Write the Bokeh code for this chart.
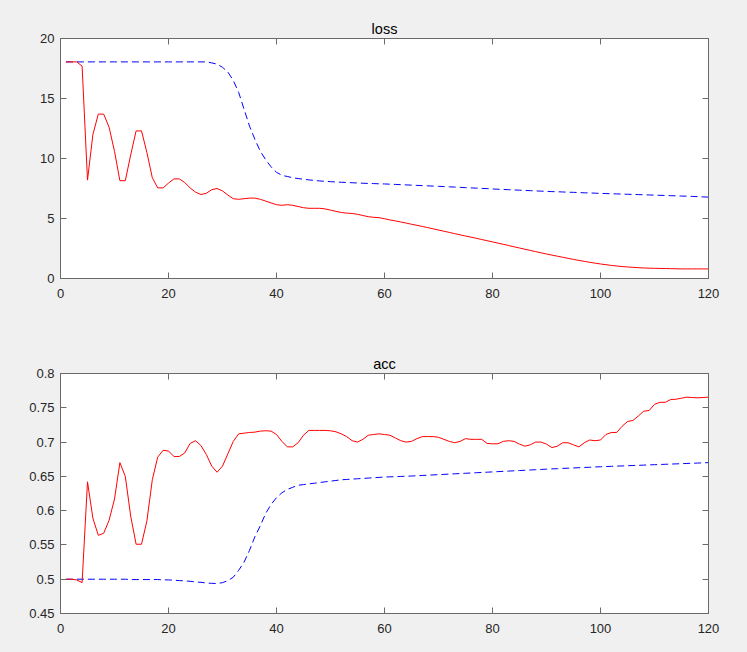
from bokeh.plotting import figure
from bokeh.layouts import column
from bokeh.models import LinearAxis, FixedTicker, Range1d
from bokeh.embed import file_html
from bokeh.resources import INLINE

epochs = list(range(1, 121))

loss_red = [
    18.05, 18.05, 18.05, 17.7, 8.2, 12.0, 13.7, 13.7, 12.6, 10.6,
    8.15, 8.15, 10.3, 12.3, 12.3, 10.5, 8.4, 7.55, 7.55, 7.95,
    8.3, 8.3, 8.0, 7.55, 7.2, 7.0, 7.1, 7.4, 7.5, 7.3,
    6.95, 6.65, 6.6, 6.65, 6.7, 6.7, 6.6, 6.45, 6.3, 6.15,
    6.1, 6.15, 6.1, 6.0, 5.9, 5.85, 5.85, 5.85, 5.8, 5.7,
    5.6, 5.5, 5.45, 5.42, 5.35, 5.25, 5.15, 5.1, 5.07, 4.98,
    4.88, 4.8, 4.71, 4.62, 4.52, 4.43, 4.34, 4.24, 4.14, 4.04,
    3.94, 3.84, 3.74, 3.64, 3.54, 3.45, 3.35, 3.25, 3.15, 3.05,
    2.95, 2.85, 2.75, 2.64, 2.54, 2.44, 2.34, 2.24, 2.14, 2.04,
    1.95, 1.86, 1.77, 1.68, 1.59, 1.51, 1.43, 1.35, 1.28, 1.21,
    1.15, 1.09, 1.04, 1.0, 0.96, 0.93, 0.9, 0.88, 0.86, 0.85,
    0.84, 0.83, 0.82, 0.81, 0.8, 0.8, 0.8, 0.8, 0.8, 0.8,
]

loss_blue = [
    18.05, 18.05, 18.05, 18.05, 18.05, 18.05, 18.05, 18.05, 18.05, 18.05,
    18.05, 18.05, 18.05, 18.05, 18.05, 18.05, 18.05, 18.05, 18.05, 18.05,
    18.05, 18.05, 18.05, 18.05, 18.05, 18.05, 18.05, 17.97, 17.86, 17.6,
    17.2, 16.5, 15.5, 14.1, 12.7, 11.6, 10.6, 9.9, 9.3, 8.85,
    8.6, 8.5, 8.4, 8.33, 8.27, 8.22, 8.17, 8.13, 8.1, 8.07,
    8.04, 8.02, 8.0, 7.98, 7.96, 7.94, 7.92, 7.91, 7.89, 7.88,
    7.86, 7.84, 7.82, 7.80, 7.78, 7.76, 7.74, 7.72, 7.70, 7.68,
    7.66, 7.64, 7.62, 7.60, 7.57, 7.55, 7.53, 7.51, 7.49, 7.46,
    7.44, 7.42, 7.40, 7.38, 7.36, 7.34, 7.32, 7.30, 7.28, 7.26,
    7.24, 7.23, 7.21, 7.19, 7.18, 7.16, 7.14, 7.13, 7.11, 7.09,
    7.08, 7.06, 7.05, 7.03, 7.02, 7.01, 6.99, 6.98, 6.96, 6.95,
    6.93, 6.92, 6.90, 6.89, 6.87, 6.86, 6.84, 6.82, 6.80, 6.78,
]

acc_red = [
    0.5, 0.5, 0.499, 0.495, 0.642, 0.589, 0.564, 0.567, 0.586, 0.617,
    0.670, 0.650, 0.592, 0.551, 0.551, 0.585, 0.645, 0.678, 0.688, 0.687,
    0.679, 0.679, 0.684, 0.698, 0.702, 0.695, 0.682, 0.665, 0.656, 0.665,
    0.683, 0.701, 0.712, 0.713, 0.714, 0.7145, 0.716, 0.7165, 0.716, 0.711,
    0.701, 0.693, 0.693, 0.699, 0.710, 0.717, 0.717, 0.717, 0.717, 0.7165,
    0.715, 0.712, 0.708, 0.702, 0.700, 0.704, 0.710, 0.711, 0.712, 0.711,
    0.710, 0.706, 0.702, 0.700, 0.701, 0.705, 0.708, 0.708, 0.708, 0.707,
    0.704, 0.701, 0.699, 0.701, 0.705, 0.704, 0.704, 0.704, 0.698, 0.6975,
    0.6975, 0.701, 0.702, 0.701, 0.697, 0.694, 0.696, 0.700, 0.700, 0.697,
    0.692, 0.694, 0.699, 0.699, 0.696, 0.693, 0.699, 0.703, 0.702, 0.703,
    0.711, 0.714, 0.714, 0.723, 0.730, 0.7315, 0.738, 0.745, 0.746, 0.755,
    0.758, 0.758, 0.762, 0.7625, 0.764, 0.7655, 0.765, 0.7645, 0.765, 0.7655,
]

acc_blue = [
    0.5, 0.5, 0.5, 0.5, 0.5, 0.5, 0.5, 0.5, 0.5, 0.5,
    0.5, 0.5, 0.4995, 0.4995, 0.4995, 0.4995, 0.4995, 0.4995, 0.499, 0.499,
    0.4985, 0.498, 0.4975, 0.497, 0.496, 0.4955, 0.4945, 0.494, 0.4937, 0.495,
    0.498, 0.503, 0.513, 0.525, 0.542, 0.562, 0.578, 0.596, 0.609, 0.619,
    0.626, 0.631, 0.634, 0.637, 0.638, 0.639, 0.640, 0.641, 0.642, 0.643,
    0.644, 0.645, 0.6455, 0.646, 0.6465, 0.647, 0.6475, 0.648, 0.6485, 0.649,
    0.6493, 0.6496, 0.6499, 0.6502, 0.6505, 0.6509, 0.6513, 0.6517, 0.6521, 0.6525,
    0.6529, 0.6533, 0.6537, 0.6541, 0.6545, 0.6549, 0.6553, 0.6557, 0.6561, 0.6565,
    0.6569, 0.6573, 0.6577, 0.6581, 0.6585, 0.6589, 0.6593, 0.6597, 0.6601, 0.6605,
    0.6609, 0.6612, 0.6616, 0.6619, 0.6623, 0.6626, 0.6630, 0.6633, 0.6637, 0.6640,
    0.6643, 0.6646, 0.6649, 0.6652, 0.6655, 0.6658, 0.6661, 0.6664, 0.6667, 0.6670,
    0.6673, 0.6676, 0.6679, 0.6682, 0.6685, 0.6688, 0.6691, 0.6694, 0.6697, 0.6700,
]

x_ticks = [0, 20, 40, 60, 80, 100, 120]
x_tick_labels = ["0", "20", "40", "60", "80", "100", "120"]
loss_ticks = [0, 5, 10, 15, 20]
loss_tick_labels = ["0", "5", "10", "15", "20"]
acc_ticks = [0.45, 0.5, 0.55, 0.6, 0.65, 0.7, 0.75, 0.8]
acc_tick_labels = ["0.45", "0.5", "0.55", "0.6", "0.65", "0.7", "0.75", "0.8"]

FONT = "Liberation Sans"
AX_COL = "#6a6a6a"
TXT_COL = "#262626"
BG = "#f0f0f0"


def style_axis(ax, ticks, labels, show_labels, standoff):
    ax.ticker = FixedTicker(ticks=ticks)
    ax.minor_tick_line_color = None
    ax.major_tick_in = 6
    ax.major_tick_out = 0
    ax.major_tick_line_color = AX_COL
    ax.axis_line_color = AX_COL
    ax.major_label_text_font = FONT
    ax.major_label_text_color = TXT_COL
    if show_labels:
        ax.major_label_overrides = {t: l for t, l in zip(ticks, labels)}
        ax.major_label_text_font_size = "13px"
        ax.major_label_standoff = standoff
    else:
        ax.major_label_text_font_size = "1px"
        ax.major_label_text_color = None
        ax.major_label_standoff = 0


def make_fig(title, ymin, ymax, yticks, ylabels, red, blue, top, bottom):
    p = figure(
        title=title,
        frame_width=648, frame_height=240,
        min_border_left=60, min_border_right=39,
        min_border_top=top, min_border_bottom=bottom,
        x_range=Range1d(0, 120), y_range=Range1d(ymin, ymax),
        output_backend="svg", toolbar_location=None,
        background_fill_color="white", border_fill_color=BG,
    )
    p.grid.visible = False
    p.outline_line_color = AX_COL
    p.title.align = "center"
    p.title.text_font = FONT
    p.title.text_font_size = "14.5px"
    p.title.text_font_style = "normal"
    p.title.text_color = "#000000"
    p.title.standoff = 4

    style_axis(p.xaxis[0], x_ticks, x_tick_labels, True, 10)
    style_axis(p.yaxis[0], yticks, ylabels, True, 6)
    top_ax = LinearAxis()
    right_ax = LinearAxis()
    style_axis(top_ax, x_ticks, x_tick_labels, False, 0)
    style_axis(right_ax, yticks, ylabels, False, 0)
    p.add_layout(top_ax, "above")
    p.add_layout(right_ax, "right")

    p.line(epochs, blue, line_color="#0000ff", line_width=1, line_dash="7 4")
    p.line(epochs, red, line_color="#ff0000", line_width=1)
    return p


p1 = make_fig("loss", 0, 20, loss_ticks, loss_tick_labels, loss_red, loss_blue, 38, 47)
p2 = make_fig("acc", 0.45, 0.8, acc_ticks, acc_tick_labels, acc_red, acc_blue, 48, 39)

p = column(p1, p2, spacing=0, styles={"background-color": BG})

open("out.html", "w").write(file_html(p, INLINE))
